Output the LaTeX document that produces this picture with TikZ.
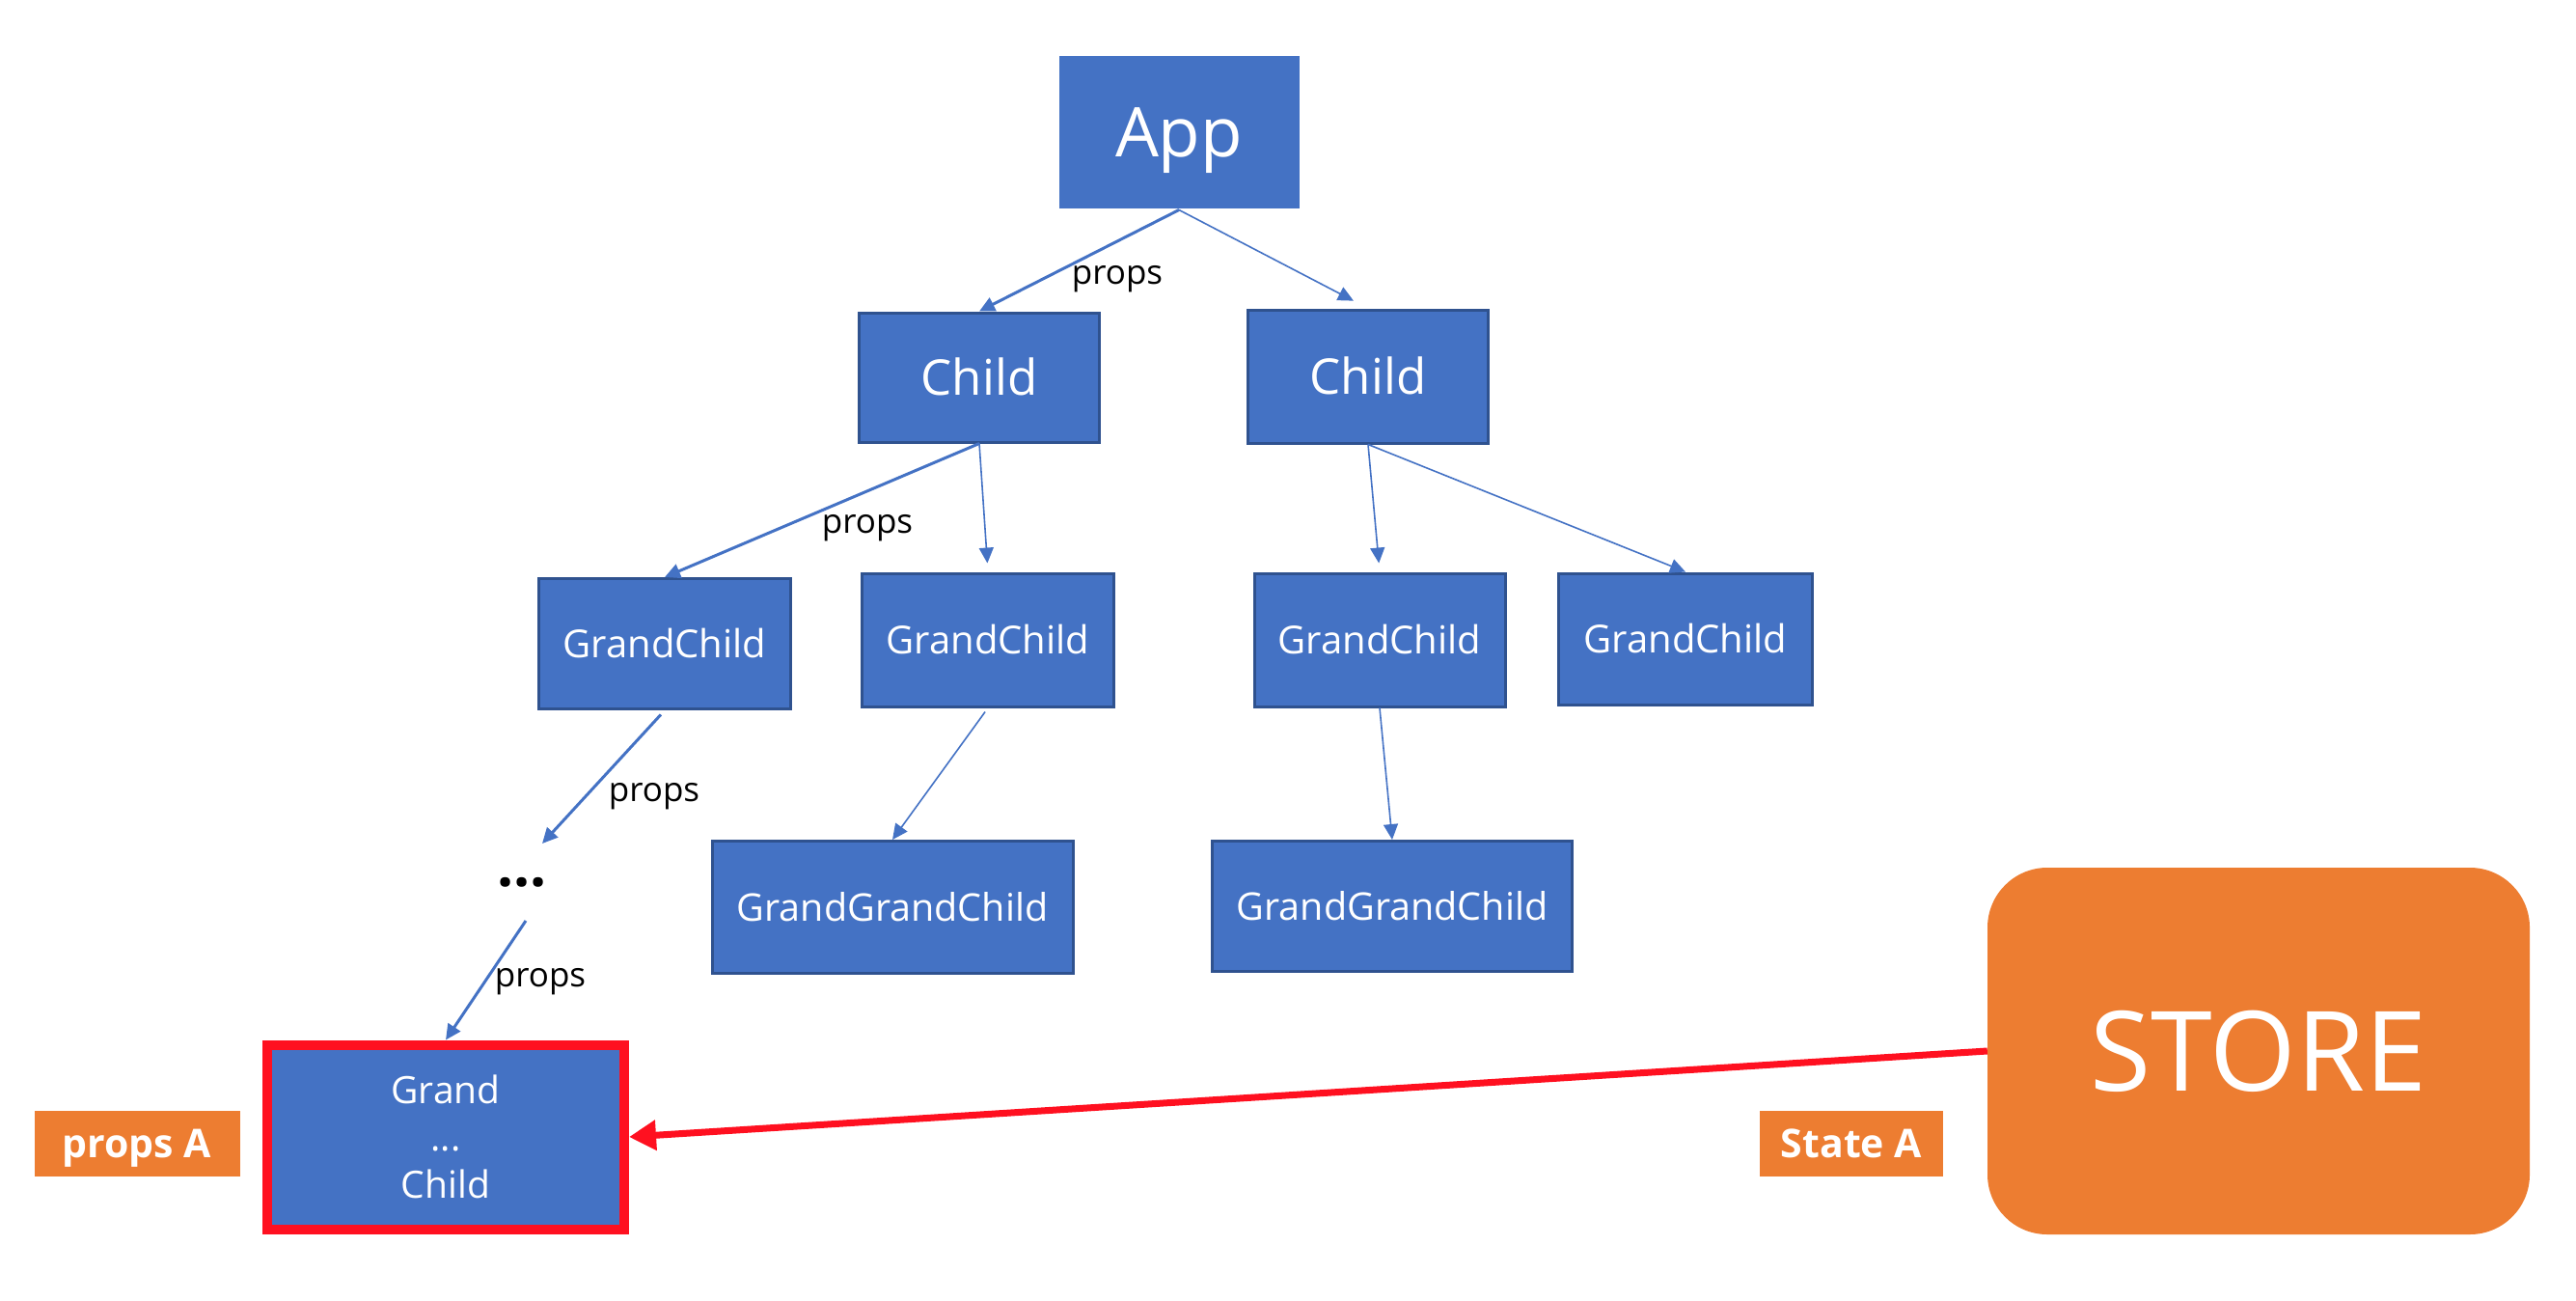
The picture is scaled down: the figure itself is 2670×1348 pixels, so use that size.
\documentclass[tikz,border=0pt]{standalone}
\usepackage{fontspec}
\setmainfont{Open Sans}
\usetikzlibrary{arrows.meta}
\definecolor{boxblue}{HTML}{4472C4}
\definecolor{boxedge}{HTML}{2F528F}
\definecolor{orng}{HTML}{ED7D31}
\definecolor{redl}{HTML}{FF1020}
\tikzset{
  bluebox/.style={rectangle, fill=boxblue, draw=boxedge, line width=3pt, text=white, inner sep=0pt},
  conn/.style={draw=boxblue, line width=1.6pt, -{Triangle[length=16pt,width=15pt]}},
  thickconn/.style={conn, line width=3pt},
  lbl/.style={text=black, font=\fontsize{35}{42}\selectfont, inner sep=0pt},
  tag/.style={fill=orng, text=white, font=\bfseries\fontsize{41}{49}\selectfont, inner sep=0pt, text height=29pt, text depth=0pt},
  fgc/.style={font=\fontsize{40}{48}\selectfont, text height=28.5pt, text depth=0pt},
  fggc/.style={font=\fontsize{39.5}{47}\selectfont, text height=28pt, text depth=0pt},
}
\begin{document}
\begin{tikzpicture}[x=1pt,y=-1pt]
\useasboundingbox (0,0) rectangle (2670,1348);
% nodes
\node[bluebox, draw=none, minimum width=249pt, minimum height=158pt, font=\fontsize{71}{85}\selectfont, text height=51pt, text depth=0pt] (app) at (1222,137) {App};
\node[bluebox, minimum width=249pt, minimum height=134pt, font=\fontsize{51}{61}\selectfont, text height=37pt, text depth=0pt] (cl) at (1015,391) {Child};
\node[bluebox, minimum width=249pt, minimum height=138pt, font=\fontsize{51}{61}\selectfont, text height=37pt, text depth=0pt] (cr) at (1418,390) {Child};
\node[bluebox, fgc, minimum width=261pt, minimum height=135pt] (gc1) at (689,667) {GrandChild};
\node[bluebox, fgc, minimum width=261pt, minimum height=138pt] (gc2) at (1024,663) {GrandChild};
\node[bluebox, fgc, minimum width=260pt, minimum height=138pt] (gc3) at (1430,663) {GrandChild};
\node[bluebox, fgc, minimum width=263pt, minimum height=136pt] (gc4) at (1747,662) {GrandChild};
\node[bluebox, fggc, minimum width=374pt, minimum height=137pt] (ggc1) at (925,940) {GrandGrandChild};
\node[bluebox, fggc, minimum width=373pt, minimum height=135pt] (ggc2) at (1443,939) {GrandGrandChild};
\node[inner sep=0pt, font=\bfseries\fontsize{60}{70}\selectfont] (dots) at (541,914) {...};
\node[bluebox, draw=redl, line width=10pt, minimum width=370pt, minimum height=191pt, align=center, font=\fontsize{39}{49}\selectfont] (gx) at (462,1178) {Grand\\...\\Child};
\node[tag, minimum width=213pt, minimum height=68pt] (propsA) at (142,1185) {props A};
\node[tag, minimum width=190pt, minimum height=68pt] (stateA) at (1919,1185) {State A};
\node[rectangle, fill=orng, rounded corners=62pt, minimum width=562pt, minimum height=380pt, text=white, font=\fontsize{115}{130}\selectfont] (store) at (2341,1089) {STORE};
\coordinate (d1) at (562,874);
\coordinate (d2) at (545,954);
% connectors
\draw[thickconn] (app.south) -- (cl.north);
\draw[conn, shorten >=17pt] (app.south) -- (cr.north);
\draw[thickconn] (cl.south) -- (gc1.north);
\draw[conn, shorten >=9pt] (cl.south) -- (gc2.north);
\draw[thickconn, shorten <=6pt] (gc1.south) -- (d1);
\draw[thickconn] (d2) -- (gx.north);
\draw[conn, shorten <=5pt] (gc2.south) -- (ggc1.north);
\draw[conn, shorten >=9pt] (cr.south) -- (gc3.north);
\draw[conn] (cr.south) -- (gc4.north);
\draw[conn] (gc3.south) -- (ggc2.north);
\draw[draw=redl, line width=7pt, -{Triangle[length=28pt,width=30pt]}] (store.west) -- (gx.east);
% labels
\node[lbl] (l1) at (1158,289) {props};
\node[lbl] (l2) at (899,547) {props};
\node[lbl] (l3) at (678,825) {props};
\node[lbl] (l4) at (560,1017) {props};
\end{tikzpicture}
\end{document}
